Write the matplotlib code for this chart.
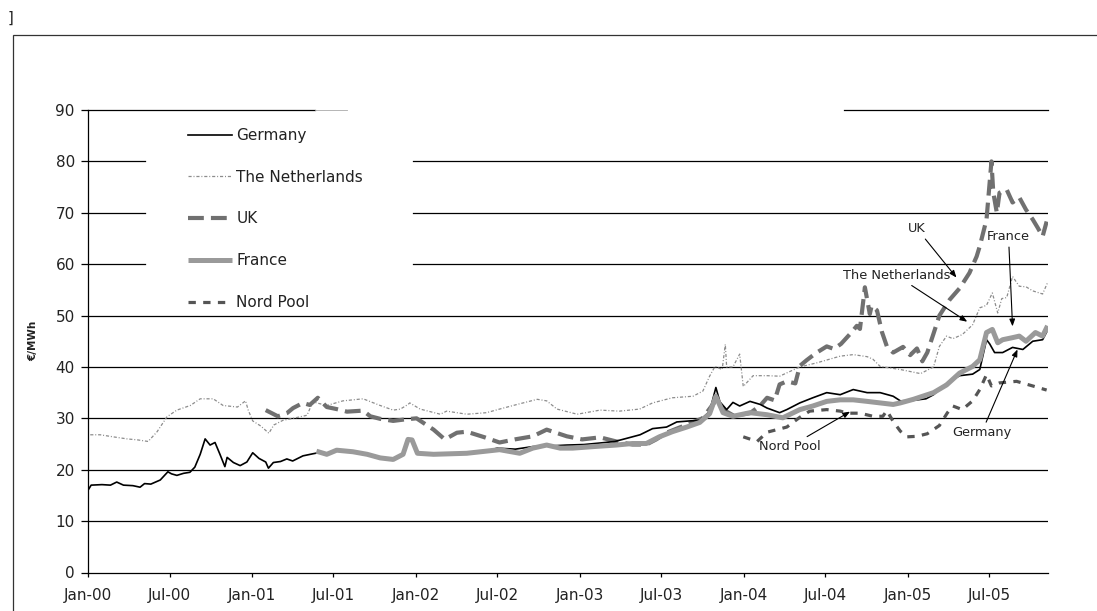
import matplotlib
matplotlib.use("Agg")
import matplotlib.pyplot as plt
import matplotlib.dates as mdates
import pandas as pd
from matplotlib.patches import Rectangle

plt.rcParams['font.family'] = ['DejaVu Sans']

# ---------------- data (EUR/MWh) ----------------
de_dates = ["2000-01-01","2000-01-08","2000-02-01","2000-02-20","2000-03-05","2000-03-20","2000-04-10","2000-04-26",
            "2000-05-06","2000-05-20","2000-06-10","2000-06-27","2000-07-05","2000-07-17","2000-08-01","2000-08-15",
            "2000-08-26","2000-09-07","2000-09-18","2000-09-29","2000-10-10","2000-10-21","2000-11-01","2000-11-06",
            "2000-11-20","2000-12-05","2000-12-20","2001-01-02","2001-01-16","2001-01-31","2001-02-06","2001-02-17",
            "2001-03-05","2001-03-19","2001-04-01","2001-04-24","2001-05-16","2001-05-28","2001-06-16","2001-07-08",
            "2001-08-13","2001-09-14","2001-10-13","2001-11-11","2001-12-03","2001-12-14","2001-12-23","2002-01-04",
            "2002-02-09","2002-04-24","2002-06-01","2002-07-01","2002-08-10","2002-09-18","2002-10-20","2002-12-03",
            "2003-01-10","2003-02-15","2003-03-20","2003-04-15","2003-05-15","2003-06-12","2003-07-13","2003-08-05",
            "2003-09-03","2003-09-25","2003-10-17","2003-10-31","2003-11-09","2003-11-24","2003-12-08","2003-12-23",
            "2004-01-15","2004-02-07","2004-02-22","2004-03-21","2004-04-06","2004-05-05","2004-06-03","2004-07-04",
            "2004-08-03","2004-09-01","2004-10-02","2004-10-31","2004-11-29","2004-12-15","2005-01-13","2005-02-10",
            "2005-02-27","2005-03-28","2005-04-26","2005-05-25","2005-06-10","2005-06-25","2005-07-02","2005-07-13",
            "2005-07-31","2005-08-22","2005-09-14","2005-10-06","2005-10-28","2005-11-06"]
de_values = [16.0,17.0,17.1,17.0,17.6,17.0,16.9,16.6,
             17.3,17.2,18.0,19.6,19.2,18.9,19.3,19.5,
             20.5,23.0,26.0,24.8,25.3,23.0,20.6,22.4,
             21.4,20.8,21.5,23.3,22.2,21.5,20.3,21.4,
             21.6,22.1,21.7,22.7,23.1,23.3,23.0,23.7,
             23.4,22.9,22.2,21.9,22.9,25.7,25.6,23.1,
             22.9,23.1,23.5,24.2,24.0,24.5,24.6,24.8,
             24.9,25.2,25.5,26.1,26.8,28.0,28.3,29.3,
             29.5,29.6,31.3,36.0,33.2,31.7,33.1,32.4,
             33.3,32.7,32.0,31.1,31.7,33.0,34.0,35.0,
             34.6,35.6,35.0,35.0,34.3,33.4,33.5,33.8,
             34.6,36.8,38.3,38.6,39.5,45.3,44.5,42.8,
             42.8,43.8,43.4,45.0,45.3,46.8]

nl_dates = ["2000-01-06","2000-01-28","2000-02-26","2000-03-28","2000-04-21","2000-05-14","2000-06-03","2000-06-25",
            "2000-07-17","2000-08-16","2000-09-07","2000-10-06","2000-10-28","2000-11-29","2000-12-17","2000-12-23",
            "2001-01-02","2001-01-20","2001-02-07","2001-02-18","2001-03-10","2001-04-02","2001-05-03","2001-05-16",
            "2001-06-16","2001-07-22","2001-09-05","2001-10-13","2001-11-11","2001-11-27","2001-12-14","2001-12-18",
            "2002-01-10","2002-02-24","2002-03-10","2002-04-24","2002-06-07","2002-07-06","2002-08-14","2002-09-28",
            "2002-10-19","2002-11-11","2002-12-26","2003-02-15","2003-03-30","2003-05-14","2003-06-12","2003-07-26",
            "2003-09-10","2003-10-02","2003-10-17","2003-10-29","2003-11-14","2003-11-21","2003-11-24","2003-12-08",
            "2003-12-23","2003-12-31","2004-01-22","2004-02-22","2004-03-21","2004-05-05","2004-06-12","2004-08-03",
            "2004-09-01","2004-10-02","2004-10-15","2004-10-31","2004-12-15","2005-01-29","2005-02-27","2005-03-12",
            "2005-03-28","2005-04-11","2005-05-02","2005-05-25","2005-06-10","2005-06-25","2005-07-08","2005-07-20",
            "2005-07-29","2005-08-09","2005-08-22","2005-09-06","2005-09-21","2005-10-06","2005-10-28","2005-11-08"]
nl_values = [26.8,26.8,26.4,26.0,25.8,25.5,27.4,30.3,
             31.6,32.5,33.8,33.8,32.5,32.2,33.4,31.6,
             29.5,28.5,27.1,28.7,29.6,30.0,30.6,33.2,
             32.5,33.4,33.8,32.5,31.6,31.8,32.7,33.0,
             31.8,30.8,31.4,30.8,31.1,31.8,32.7,33.7,
             33.4,31.8,30.8,31.6,31.4,31.8,33.0,34.0,
             34.3,35.3,38.2,40.1,39.5,44.4,40.0,40.0,
             42.5,36.2,38.3,38.3,38.2,40.0,40.8,42.1,
             42.4,42.0,41.5,40.1,39.5,38.7,40.0,44.0,
             46.0,45.5,46.3,48.2,51.5,52.0,54.4,50.5,
             53.3,53.5,57.6,55.7,55.6,54.8,54.2,56.4]

uk_dates = ["2001-01-31","2001-02-27","2001-03-19","2001-04-02","2001-04-24","2001-05-09","2001-05-27","2001-06-16",
            "2001-07-08","2001-07-31","2001-09-05","2001-09-21","2001-10-13","2001-11-11","2001-12-08","2002-01-02",
            "2002-02-09","2002-03-06","2002-04-02","2002-04-24","2002-06-03","2002-07-06","2002-08-09","2002-09-18",
            "2002-10-19","2002-12-03","2003-01-06","2003-02-15","2003-03-23","2003-04-28","2003-05-29","2003-06-20",
            "2003-07-13","2003-08-05","2003-09-03","2003-10-01","2003-10-31","2003-11-20","2003-12-10","2004-01-15",
            "2004-02-07","2004-02-22","2004-03-10","2004-03-21","2004-04-06","2004-04-25","2004-05-05","2004-05-20",
            "2004-06-10","2004-07-04","2004-07-20","2004-08-05","2004-08-29","2004-09-09","2004-09-16","2004-09-27",
            "2004-10-08","2004-10-12","2004-10-24","2004-11-04","2004-11-15","2004-11-29","2004-12-21","2005-01-06",
            "2005-01-21","2005-02-02","2005-02-13","2005-02-27","2005-03-12","2005-04-04","2005-04-26","2005-05-18",
            "2005-06-03","2005-06-10","2005-06-25","2005-07-06","2005-07-10","2005-07-18","2005-07-24","2005-08-09",
            "2005-08-22","2005-09-06","2005-09-21","2005-10-06","2005-10-17","2005-10-28","2005-11-06"]
uk_values = [31.6,30.4,31.0,32.0,33.0,32.6,34.0,32.2,
             31.8,31.3,31.5,30.4,29.9,29.5,29.8,30.0,
             27.8,25.9,27.2,27.4,26.3,25.3,25.9,26.5,
             27.8,26.5,25.9,26.3,25.5,24.9,24.9,25.9,
             27.2,28.0,29.0,30.0,33.5,31.5,30.5,31.0,
             32.5,34.0,33.5,36.6,37.2,36.8,40.2,41.3,
             42.7,44.0,43.5,44.5,46.8,48.0,47.4,55.5,
             50.3,51.9,51.0,46.8,44.0,42.8,43.9,42.3,
             43.6,41.1,42.8,46.5,50.0,53.1,55.3,58.3,
             61.5,63.5,68.7,80.0,74.0,70.0,73.9,74.5,
             72.0,73.0,70.6,68.7,67.1,65.4,68.3]

fr_dates = ["2001-05-24","2001-06-16","2001-07-08","2001-08-13","2001-09-14","2001-10-13","2001-11-11","2001-12-03",
            "2001-12-14","2001-12-23","2002-01-04","2002-02-09","2002-04-24","2002-07-06","2002-08-20","2002-09-18",
            "2002-10-19","2002-11-18","2002-12-16","2003-01-31","2003-03-23","2003-04-28","2003-05-29","2003-06-27",
            "2003-07-26","2003-08-27","2003-09-25","2003-10-17","2003-10-31","2003-11-16","2003-12-08","2004-01-15",
            "2004-02-22","2004-03-28","2004-05-05","2004-06-03","2004-07-04","2004-08-03","2004-09-01","2004-10-02",
            "2004-10-31","2004-11-29","2004-12-15","2005-01-13","2005-02-27","2005-03-28","2005-04-26","2005-05-25",
            "2005-06-10","2005-06-25","2005-07-08","2005-07-20","2005-07-31","2005-08-22","2005-09-06","2005-09-21",
            "2005-10-12","2005-10-28","2005-11-08"]
fr_values = [23.6,23.0,23.8,23.5,23.0,22.3,22.0,23.0,
             25.9,25.8,23.2,23.0,23.2,23.9,23.2,24.2,
             24.8,24.2,24.2,24.5,24.8,25.1,25.1,26.4,
             27.4,28.3,29.2,30.9,34.3,31.1,30.4,31.1,
             30.7,30.1,31.7,32.4,33.3,33.6,33.6,33.3,
             33.0,32.7,33.0,33.7,35.0,36.5,38.8,40.1,
             41.4,46.7,47.3,44.7,45.3,45.7,46.0,45.0,
             46.7,46.0,48.0]

np_dates = ["2003-12-31","2004-01-31","2004-02-22","2004-04-06","2004-05-05","2004-05-27","2004-07-04","2004-08-03",
            "2004-08-20","2004-09-16","2004-10-15","2004-11-06","2004-11-15","2004-11-29","2004-12-15","2004-12-30",
            "2005-01-21","2005-02-13","2005-03-12","2005-03-30","2005-04-11","2005-05-02","2005-05-25","2005-06-10",
            "2005-06-25","2005-07-06","2005-07-24","2005-08-31","2005-10-06","2005-11-06"]
np_values = [26.4,25.5,27.3,28.3,30.2,31.4,31.7,31.4,
             31.0,31.0,30.4,30.4,31.5,29.4,27.5,26.4,
             26.5,27.0,28.6,31.1,32.4,31.7,33.4,35.6,
             38.5,36.3,36.9,37.2,36.3,35.5]

y_ticks = [0, 10, 20, 30, 40, 50, 60, 70, 80, 90]
x_start, x_end = "2000-01-01", "2005-11-09"

# ---------------- figure ----------------
W, H = 1097, 611
fig = plt.figure(figsize=(W / 100, H / 100), dpi=100)
ax = fig.add_axes([88 / W, 1 - 572.5 / H, 960 / W, (572.5 - 110) / H])

# outer frame
fig.patches.append(Rectangle((13 / W, -0.1), 1.2, 1 - 35 / H + 0.1, transform=fig.transFigure,
                             fill=False, edgecolor='#333333', linewidth=0.9, zorder=0))
fig.text(10 / W, 1 - 18 / H, "]", fontsize=10.5, ha='center', va='center', color='#222222')

# gridlines (with gaps where legend / title boxes sit)
for v in y_ticks[1:]:
    if v in (60, 70, 80):
        ax.axhline(v, xmin=0, xmax=0.0594, color='black', lw=0.9, zorder=1)
        ax.axhline(v, xmin=0.3385, xmax=1, color='black', lw=0.9, zorder=1)
    elif v == 90:
        ax.axhline(v, xmin=0, xmax=0.2365, color='black', lw=0.9, zorder=1, clip_on=False)
        ax.axhline(v, xmin=0.2365, xmax=0.2698, color='#aaaaaa', lw=0.6, zorder=1, clip_on=False)
        ax.axhline(v, xmin=0.7875, xmax=1, color='black', lw=0.9, zorder=1, clip_on=False)
    else:
        ax.axhline(v, color='black', lw=0.9, zorder=1)

h_nl, = ax.plot(pd.to_datetime(nl_dates), nl_values, color='#8c8c8c', lw=0.9,
                ls=(0, (2.5, 1.5, 0.8, 1.5)), label='The Netherlands', zorder=2)
h_uk, = ax.plot(pd.to_datetime(uk_dates), uk_values, color='#707070', lw=3.0,
                ls=(0, (3.8, 1.7)), label='UK', zorder=3)
h_np, = ax.plot(pd.to_datetime(np_dates), np_values, color='#555555', lw=2.3,
                ls=(0, (2.3, 2.3)), label='Nord Pool', zorder=4)
h_de, = ax.plot(pd.to_datetime(de_dates), de_values, color='black', lw=1.2,
                label='Germany', zorder=5)
h_fr, = ax.plot(pd.to_datetime(fr_dates), fr_values, color='#9a9a9a', lw=3.6,
                label='France', zorder=6, solid_capstyle='butt')

ax.set_xlim(pd.Timestamp(x_start), pd.Timestamp(x_end))
ax.set_ylim(0, 90)
ax.set_yticks(y_ticks)
ax.xaxis.set_major_locator(mdates.MonthLocator(bymonth=[1, 7]))
ax.xaxis.set_major_formatter(mdates.DateFormatter('%b-%y'))

for s in ('top', 'right'):
    ax.spines[s].set_visible(False)
for s in ('left', 'bottom'):
    ax.spines[s].set_linewidth(0.9)
    ax.spines[s].set_color('black')

ax.tick_params(axis='x', direction='out', length=3, width=0.9, pad=8.5,
               labelsize=11, labelcolor='#222222')
ax.tick_params(axis='y', direction='out', length=5, width=0.9, pad=4.5,
               labelsize=11, labelcolor='#222222')

ax.set_ylabel('€/MWh', fontsize=7.5, fontweight='bold', color='#222222')
ax.yaxis.set_label_coords(-0.052, 0.5)

leg = ax.legend(handles=[h_de, h_nl, h_uk, h_fr, h_np], loc='upper left',
                bbox_to_anchor=(188 / W, 1 - 128 / H), bbox_transform=fig.transFigure,
                frameon=False, borderpad=0, borderaxespad=0, fontsize=11,
                handlelength=2.9, handletextpad=0.25, labelspacing=1.75)
for t in leg.get_texts():
    t.set_color('#222222')

# annotations
arrow = dict(arrowstyle='-|>,head_length=0.45,head_width=0.18', color='black', lw=0.8,
             shrinkA=1, shrinkB=0)
ann = [
    ("UK", "2005-01-21", 66.9, "2005-04-19", 57.4),
    ("France", "2005-08-13", 65.4, "2005-08-22", 47.9),
    ("The Netherlands", "2004-12-06", 57.8, "2005-05-13", 48.8),
    ("Germany", "2005-06-14", 27.2, "2005-09-02", 43.4),
    ("Nord Pool", "2004-04-13", 24.5, "2004-08-25", 31.3),
]
for txt, tx, ty, px, py in ann:
    ax.annotate(txt, xy=(pd.Timestamp(px), py), xytext=(pd.Timestamp(tx), ty),
                textcoords='data', ha='center', va='center', fontsize=9.3,
                color='#222222', arrowprops=arrow, zorder=8)

fig.savefig('out.png', dpi=100)
